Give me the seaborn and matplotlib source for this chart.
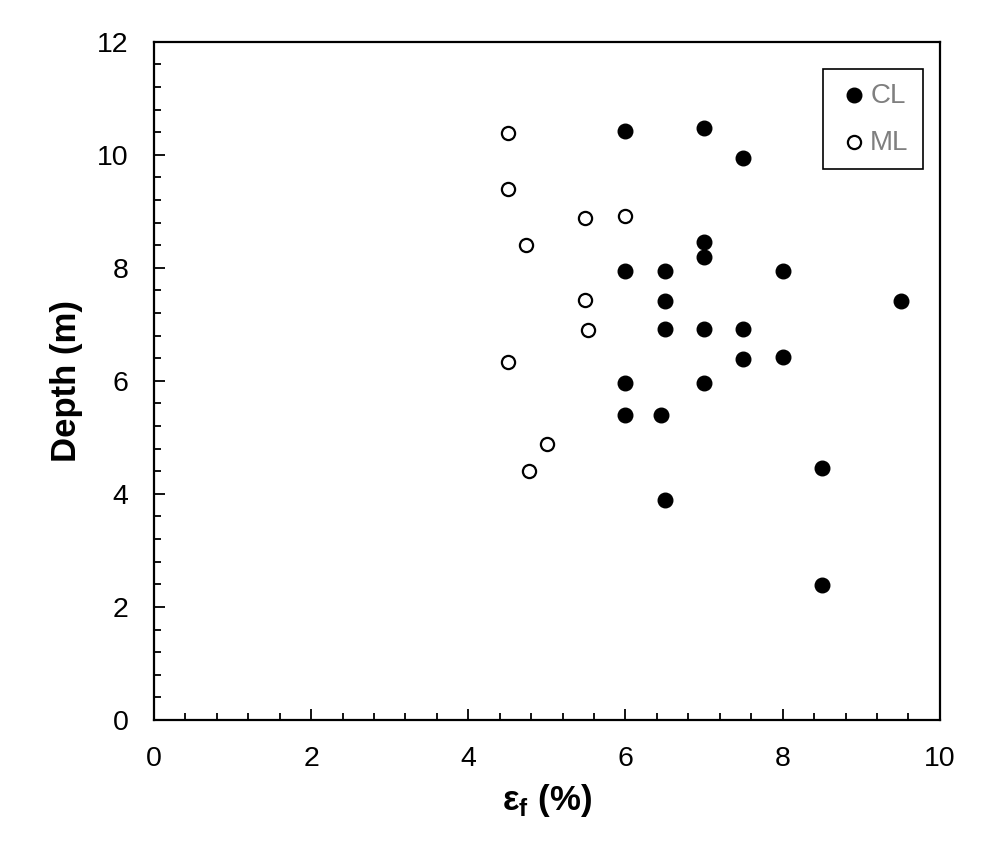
import pandas as pd
import matplotlib.pyplot as plt
import seaborn as sns
from matplotlib.ticker import MultipleLocator

# Values
cl_strain = [6.0, 7.0, 7.5, 7.0, 7.0, 6.0, 6.5, 8.0, 6.5, 9.5, 6.5, 7.0, 7.5,
             7.5, 8.0, 6.0, 7.0, 6.0, 6.45, 8.5, 6.5, 8.5]
cl_depth = [10.42, 10.47, 9.95, 8.45, 8.19, 7.94, 7.94, 7.94, 7.42, 7.42, 6.91, 6.91, 6.91,
            6.38, 6.43, 5.96, 5.96, 5.40, 5.40, 4.46, 3.89, 2.39]
ml_strain = [4.5, 4.5, 4.73, 5.48, 6.0, 5.48, 5.52, 4.5, 5.0, 4.77]
ml_depth = [10.38, 9.39, 8.41, 8.88, 8.92, 7.43, 6.90, 6.34, 4.88, 4.41]

cl_df = pd.DataFrame({'strain': cl_strain, 'depth': cl_depth})
ml_df = pd.DataFrame({'strain': ml_strain, 'depth': ml_depth})

sns.set_style('ticks')
plt.rcParams['font.family'] = ['Liberation Sans', 'DejaVu Sans']
plt.rcParams['mathtext.fontset'] = 'custom'
plt.rcParams['mathtext.bf'] = 'Liberation Sans:bold'
plt.rcParams['mathtext.rm'] = 'Liberation Sans'
plt.rcParams['text.color'] = 'black'
plt.rcParams['axes.labelcolor'] = 'black'

fig = plt.figure(figsize=(9.81, 8.52), dpi=100)
ax = fig.add_axes([0.157, 0.155, 0.801, 0.796])

# Filled circles for CL, open circles for ML
sns.scatterplot(data=cl_df, x='strain', y='depth', ax=ax, color='black',
                edgecolor='black', s=110, linewidth=1.0, label='CL')
sns.scatterplot(data=ml_df, x='strain', y='depth', ax=ax, facecolor='white',
                edgecolor='black', s=90, linewidth=1.6, label='ML')

ax.set_xlim(0, 10)
ax.set_ylim(0, 12)
ax.xaxis.set_major_locator(MultipleLocator(2))
ax.xaxis.set_minor_locator(MultipleLocator(0.4))
ax.yaxis.set_major_locator(MultipleLocator(2))
ax.yaxis.set_minor_locator(MultipleLocator(0.4))
ax.tick_params(which='both', direction='in', width=1.3, labelsize=20.5, colors='black')
ax.tick_params(axis='x', pad=19)
ax.tick_params(axis='y', pad=18.5)
ax.tick_params(which='major', length=8)
ax.tick_params(which='minor', length=5)
for sp in ax.spines.values():
    sp.set_linewidth(1.6)
    sp.set_color('black')

ax.set_xlabel('ε$_\\mathbf{f}$ (%)', fontsize=25, fontweight='bold', labelpad=7)
ax.set_ylabel('Depth (m)', fontsize=25, fontweight='bold', labelpad=10)

leg = ax.legend(loc='upper right', bbox_to_anchor=(0.978, 0.96), borderaxespad=0,
                fontsize=20, labelcolor='#7f7f7f', frameon=True, fancybox=False,
                edgecolor='black', framealpha=1, handletextpad=0.0,
                labelspacing=0.75, borderpad=0.5, handlelength=1.2)
leg.get_frame().set_linewidth(1.2)

fig.savefig('out.png', dpi=100)
